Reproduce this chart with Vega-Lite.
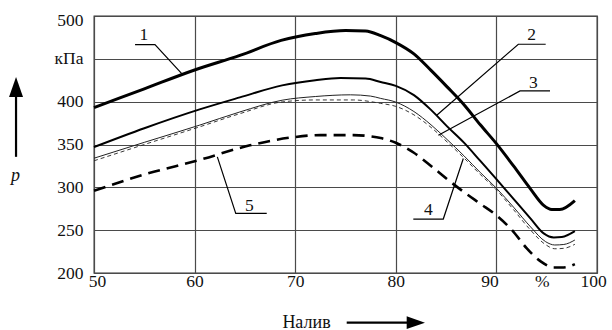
{
  "$schema": "https://vega.github.io/schema/vega-lite/v6.json",
  "width": 503,
  "height": 257,
  "autosize": {"type": "none"},
  "padding": {"left": 94, "top": 16, "right": 15, "bottom": 57},
  "background": "white",
  "config": {
    "view": {"stroke": "#333333", "strokeWidth": 1.3},
    "font": "Liberation Serif, Times New Roman, DejaVu Serif, serif"
  },
  "datasets": {
    "curves": [
      {"s": "1", "x": 50, "y": 393}, {"s": "1", "x": 55, "y": 415}, {"s": "1", "x": 60, "y": 437}, {"s": "1", "x": 64.5, "y": 454}, {"s": "1", "x": 68.6, "y": 471.5}, {"s": "1", "x": 72, "y": 479.5}, {"s": "1", "x": 75, "y": 483}, {"s": "1", "x": 77, "y": 482.5}, {"s": "1", "x": 78.5, "y": 477}, {"s": "1", "x": 80, "y": 469}, {"s": "1", "x": 81.8, "y": 455.8}, {"s": "1", "x": 83.5, "y": 436.5}, {"s": "1", "x": 85.1, "y": 417.3}, {"s": "1", "x": 86.8, "y": 396.2}, {"s": "1", "x": 88.4, "y": 373}, {"s": "1", "x": 90, "y": 351}, {"s": "1", "x": 91.7, "y": 325}, {"s": "1", "x": 93.4, "y": 298}, {"s": "1", "x": 94.7, "y": 279}, {"s": "1", "x": 95.5, "y": 274.2}, {"s": "1", "x": 96.3, "y": 274.2}, {"s": "1", "x": 97.8, "y": 284.6},
      {"s": "2", "x": 50, "y": 347}, {"s": "2", "x": 55, "y": 369}, {"s": "2", "x": 60.5, "y": 391}, {"s": "2", "x": 64.5, "y": 405}, {"s": "2", "x": 68.7, "y": 419}, {"s": "2", "x": 72, "y": 425}, {"s": "2", "x": 74.5, "y": 427.5}, {"s": "2", "x": 77, "y": 427}, {"s": "2", "x": 78.5, "y": 423}, {"s": "2", "x": 80, "y": 418.5}, {"s": "2", "x": 81.8, "y": 407.7}, {"s": "2", "x": 83.5, "y": 390.4}, {"s": "2", "x": 85.1, "y": 371.2}, {"s": "2", "x": 86.8, "y": 351.9}, {"s": "2", "x": 88.4, "y": 330.8}, {"s": "2", "x": 90, "y": 309.6}, {"s": "2", "x": 91.7, "y": 286.5}, {"s": "2", "x": 93.4, "y": 263.5}, {"s": "2", "x": 94.7, "y": 246.2}, {"s": "2", "x": 95.7, "y": 241.5}, {"s": "2", "x": 96.5, "y": 242}, {"s": "2", "x": 97.8, "y": 248.8},
      {"s": "3", "x": 50, "y": 334}, {"s": "3", "x": 55, "y": 352.5}, {"s": "3", "x": 60.5, "y": 372.6}, {"s": "3", "x": 64.5, "y": 388}, {"s": "3", "x": 68.7, "y": 401.7}, {"s": "3", "x": 72, "y": 406}, {"s": "3", "x": 75.5, "y": 408}, {"s": "3", "x": 77.5, "y": 406.5}, {"s": "3", "x": 78.5, "y": 403.8}, {"s": "3", "x": 80, "y": 399.5}, {"s": "3", "x": 81.8, "y": 388.5}, {"s": "3", "x": 83.5, "y": 373}, {"s": "3", "x": 85.1, "y": 355.8}, {"s": "3", "x": 86.8, "y": 336.5}, {"s": "3", "x": 88.4, "y": 317.3}, {"s": "3", "x": 90, "y": 299}, {"s": "3", "x": 91.7, "y": 276.9}, {"s": "3", "x": 93.4, "y": 253.8}, {"s": "3", "x": 94.9, "y": 236.5}, {"s": "3", "x": 95.8, "y": 232.7}, {"s": "3", "x": 96.7, "y": 233.3}, {"s": "3", "x": 97.8, "y": 238.5},
      {"s": "4", "x": 50, "y": 331}, {"s": "4", "x": 55, "y": 350}, {"s": "4", "x": 60.5, "y": 370.6}, {"s": "4", "x": 64.5, "y": 386}, {"s": "4", "x": 68.7, "y": 399.7}, {"s": "4", "x": 72, "y": 402}, {"s": "4", "x": 75.8, "y": 402}, {"s": "4", "x": 78.5, "y": 398}, {"s": "4", "x": 80, "y": 394.5}, {"s": "4", "x": 81.8, "y": 384.6}, {"s": "4", "x": 83.5, "y": 370}, {"s": "4", "x": 85.1, "y": 353}, {"s": "4", "x": 86.8, "y": 334}, {"s": "4", "x": 88.4, "y": 315}, {"s": "4", "x": 90, "y": 297}, {"s": "4", "x": 91.7, "y": 274}, {"s": "4", "x": 93.4, "y": 250}, {"s": "4", "x": 94.9, "y": 233}, {"s": "4", "x": 95.8, "y": 228.3}, {"s": "4", "x": 96.7, "y": 228.8}, {"s": "4", "x": 97.8, "y": 233.5},
      {"s": "5", "x": 50, "y": 296}, {"s": "5", "x": 55, "y": 315}, {"s": "5", "x": 60.5, "y": 332}, {"s": "5", "x": 65.5, "y": 349}, {"s": "5", "x": 69.8, "y": 358.5}, {"s": "5", "x": 72.5, "y": 361}, {"s": "5", "x": 75.8, "y": 361}, {"s": "5", "x": 77.5, "y": 359.5}, {"s": "5", "x": 78.5, "y": 357.5}, {"s": "5", "x": 80, "y": 352}, {"s": "5", "x": 81.8, "y": 340.4}, {"s": "5", "x": 83.5, "y": 325}, {"s": "5", "x": 85.1, "y": 309.6}, {"s": "5", "x": 86.8, "y": 294.2}, {"s": "5", "x": 88.4, "y": 280.8}, {"s": "5", "x": 90, "y": 267.3}, {"s": "5", "x": 91.7, "y": 248.1}, {"s": "5", "x": 93, "y": 229}, {"s": "5", "x": 94.4, "y": 213.5}, {"s": "5", "x": 95.7, "y": 206.5}, {"s": "5", "x": 96.7, "y": 206.5}, {"s": "5", "x": 97.8, "y": 210.4}
    ],
    "leaders": [
      {"id": "1", "i": 0, "x": 54.08, "y": 466.6}, {"id": "1", "i": 1, "x": 56.06, "y": 466.6}, {"id": "1", "i": 2, "x": 58.72, "y": 432.8},
      {"id": "2", "i": 0, "x": 94.9, "y": 467}, {"id": "2", "i": 1, "x": 92.18, "y": 467}, {"id": "2", "i": 2, "x": 84.07, "y": 384.2},
      {"id": "3", "i": 0, "x": 95.33, "y": 412.5}, {"id": "3", "i": 1, "x": 92.35, "y": 412.5}, {"id": "3", "i": 2, "x": 84.23, "y": 360.9},
      {"id": "4", "i": 0, "x": 81.74, "y": 263}, {"id": "4", "i": 1, "x": 84.72, "y": 263}, {"id": "4", "i": 2, "x": 86.71, "y": 333.7},
      {"id": "5", "i": 0, "x": 67.17, "y": 269.6}, {"id": "5", "i": 1, "x": 64.09, "y": 269.6}, {"id": "5", "i": 2, "x": 62.26, "y": 335.6}
    ],
    "labels": [
      {"t": "1", "x": 54.95, "y": 471.7},
      {"t": "2", "x": 93.51, "y": 471.7},
      {"t": "3", "x": 93.67, "y": 416.5},
      {"t": "4", "x": 83.23, "y": 267.6},
      {"t": "5", "x": 65.44, "y": 272.3}
    ],
    "shafts": [
      {"a": "up", "i": 0, "x": 42.25, "y": 335.6}, {"a": "up", "i": 1, "x": 42.25, "y": 412},
      {"a": "right", "i": 0, "x": 75.12, "y": 142.05}, {"a": "right", "i": 1, "x": 81.3, "y": 142.05}
    ],
    "heads": [
      {"a": "up", "x": 42.25, "y": 417.2},
      {"a": "right", "x": 81.99, "y": 142.05}
    ]
  },
  "encoding": {
    "x": {
      "field": "x",
      "type": "quantitative",
      "scale": {"domain": [50, 100], "nice": false, "zero": false},
      "axis": {
        "values": [50, 60, 70, 80, 90, 94.5, 100],
        "labelExpr": "datum.value == 94.5 ? '%' : datum.label",
        "grid": true,
        "gridColor": "#4a4a4a",
        "gridWidth": 1.2,
        "gridOpacity": {"condition": {"test": "datum.value == 94.5", "value": 0}, "value": 1},
        "ticks": false,
        "tickSize": 0,
        "domain": false,
        "labelFont": "Liberation Serif, Times New Roman, DejaVu Serif, serif",
        "labelFontSize": 17.5,
        "labelColor": "#111111",
        "labelBaseline": "alphabetic",
        "labelPadding": 13,
        "labelFlush": false,
        "labelOverlap": false,
        "labelOffset": {"condition": [{"test": "datum.value == 90", "value": -7}, {"test": "datum.value == 100", "value": -4}, {"test": "datum.value == 50", "value": 3}], "value": 0},
        "title": "Налив",
        "titleFont": "Liberation Serif, Times New Roman, DejaVu Serif, serif",
        "titleFontSize": 18,
        "titleFontWeight": "normal",
        "titleColor": "#111111",
        "titleX": 212,
        "titleY": 54,
        "titleBaseline": "alphabetic",
        "titleAlign": "center"
      }
    },
    "y": {
      "field": "y",
      "type": "quantitative",
      "scale": {"domain": [200, 500], "nice": false, "zero": false},
      "axis": {
        "values": [200, 250, 300, 350, 400, 450, 500],
        "labelExpr": "datum.value == 450 ? 'кПа' : datum.label",
        "grid": true,
        "gridColor": "#4a4a4a",
        "gridWidth": 1.2,
        "ticks": false,
        "tickSize": 0,
        "domain": false,
        "labelFont": "Liberation Serif, Times New Roman, DejaVu Serif, serif",
        "labelFontSize": 17.5,
        "labelColor": "#111111",
        "labelPadding": 11,
        "labelFlush": false,
        "labelOverlap": false,
        "labelOffset": {"condition": {"test": "datum.value == 500", "value": 4}, "value": 0},
        "title": "p",
        "titleFont": "Liberation Serif, Times New Roman, DejaVu Serif, serif",
        "titleFontSize": 18,
        "titleFontWeight": "normal",
        "titleFontStyle": "italic",
        "titleColor": "#111111",
        "titleAngle": 0,
        "titleX": -79,
        "titleY": 164,
        "titleBaseline": "alphabetic",
        "titleAlign": "center"
      }
    }
  },
  "layer": [
    {
      "data": {"name": "curves"},
      "transform": [{"filter": "datum.s == '1'"}],
      "mark": {"type": "line", "interpolate": "monotone", "color": "black", "strokeWidth": 3}
    },
    {
      "data": {"name": "curves"},
      "transform": [{"filter": "datum.s == '2'"}],
      "mark": {"type": "line", "interpolate": "monotone", "color": "black", "strokeWidth": 2}
    },
    {
      "data": {"name": "curves"},
      "transform": [{"filter": "datum.s == '3'"}],
      "mark": {"type": "line", "interpolate": "monotone", "color": "#222222", "strokeWidth": 1}
    },
    {
      "data": {"name": "curves"},
      "transform": [{"filter": "datum.s == '4'"}],
      "mark": {"type": "line", "interpolate": "monotone", "color": "#222222", "strokeWidth": 0.9, "strokeDash": [4, 3]}
    },
    {
      "data": {"name": "curves"},
      "transform": [{"filter": "datum.s == '5'"}],
      "mark": {"type": "line", "interpolate": "monotone", "color": "black", "strokeWidth": 2.6, "strokeDash": [12, 7]}
    },
    {
      "data": {"name": "leaders"},
      "mark": {"type": "line", "color": "black", "strokeWidth": 1.2},
      "encoding": {
        "detail": {"field": "id", "type": "nominal"},
        "order": {"field": "i", "type": "quantitative"}
      }
    },
    {
      "data": {"name": "labels"},
      "mark": {"type": "text", "font": "Liberation Serif, Times New Roman, DejaVu Serif, serif", "fontSize": 17.5, "color": "#111111", "baseline": "alphabetic", "align": "center"},
      "encoding": {
        "text": {"field": "t", "type": "nominal"}
      }
    },
    {
      "data": {"name": "shafts"},
      "mark": {"type": "line", "color": "black", "strokeWidth": 2.2},
      "encoding": {
        "detail": {"field": "a", "type": "nominal"},
        "order": {"field": "i", "type": "quantitative"}
      }
    },
    {
      "data": {"name": "heads"},
      "transform": [{"filter": "datum.a == 'up'"}],
      "mark": {"type": "point", "shape": "M0,-1L0.7,1L-0.7,1Z", "size": 400, "filled": true, "color": "black", "opacity": 1, "strokeWidth": 0}
    },
    {
      "data": {"name": "heads"},
      "transform": [{"filter": "datum.a == 'right'"}],
      "mark": {"type": "point", "shape": "M1,0L-1,-0.7L-1,0.7Z", "size": 335, "filled": true, "color": "black", "opacity": 1, "strokeWidth": 0}
    }
  ]
}
